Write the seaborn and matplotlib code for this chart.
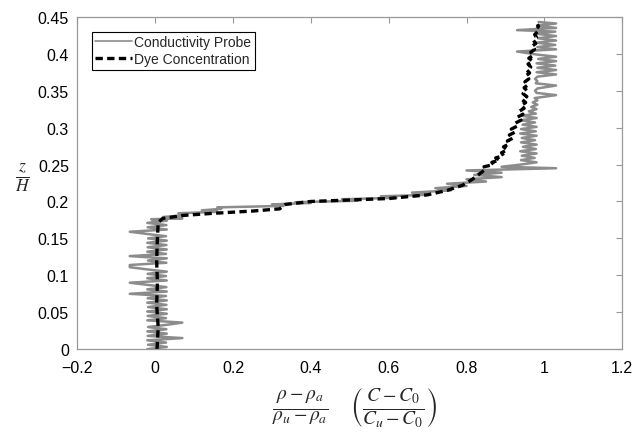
import numpy as np
import pandas as pd
import matplotlib
matplotlib.use("Agg")
import matplotlib.pyplot as plt
import seaborn as sns

# conductivity probe trace (normalised density) against height z/H
probe_z = [0.000, 0.003, 0.006, 0.009, 0.012, 0.015, 0.018, 0.021, 0.024, 0.027,
           0.030, 0.033, 0.036, 0.039, 0.042, 0.045, 0.048, 0.051, 0.054, 0.057,
           0.060, 0.063, 0.066, 0.069, 0.072, 0.075, 0.078, 0.081, 0.084, 0.087,
           0.090, 0.093, 0.096, 0.099, 0.102, 0.105, 0.108, 0.111, 0.114, 0.117,
           0.120, 0.123, 0.126, 0.129, 0.132, 0.135, 0.138, 0.141, 0.144, 0.147,
           0.150, 0.153, 0.156, 0.159, 0.162, 0.165, 0.168, 0.171, 0.174,
           0.176, 0.177, 0.179, 0.181, 0.184, 0.186, 0.188, 0.190, 0.192, 0.194,
           0.196, 0.198, 0.199, 0.201, 0.203, 0.205, 0.207, 0.209, 0.212, 0.215,
           0.218, 0.221, 0.224, 0.227, 0.230, 0.233, 0.236, 0.239, 0.242, 0.245,
           0.247, 0.250, 0.253, 0.256, 0.259, 0.262, 0.265, 0.268, 0.271, 0.274,
           0.277, 0.280, 0.283, 0.286, 0.289, 0.292, 0.295, 0.298, 0.301, 0.304,
           0.307, 0.310, 0.313, 0.316, 0.319, 0.322, 0.325, 0.328, 0.331, 0.334,
           0.337, 0.340, 0.344, 0.347, 0.350, 0.353, 0.357, 0.360, 0.363, 0.366,
           0.369, 0.372, 0.375, 0.378, 0.381, 0.384, 0.387, 0.390, 0.393, 0.396,
           0.399, 0.403, 0.406, 0.409, 0.412, 0.415, 0.418, 0.421, 0.424, 0.427,
           0.430, 0.432, 0.435, 0.438, 0.441, 0.443]
probe_x = [-0.020, 0.030, -0.018, 0.028, -0.020, 0.070, -0.019, 0.030, -0.020, 0.029,
           -0.018, 0.030, 0.070, -0.020, 0.028, -0.019, 0.030, -0.020, 0.030, -0.018,
           0.029, -0.020, 0.030, -0.019, 0.028, -0.065, 0.030, -0.020, 0.029, -0.018,
           -0.065, 0.030, -0.020, 0.028, -0.019, 0.030, -0.020, -0.065, -0.065, 0.029,
           -0.018, 0.030, -0.065, 0.028, -0.020, 0.030, -0.019, 0.029, -0.020, 0.030,
           -0.018, 0.028, -0.020, -0.065, 0.030, -0.019, 0.029, -0.020, 0.030,
           -0.010, 0.070, 0.020, 0.070, 0.060, 0.160, 0.120, 0.170, 0.160, 0.330,
           0.300, 0.400, 0.360, 0.520, 0.480, 0.620, 0.580, 0.700, 0.660, 0.760,
           0.720, 0.800, 0.750, 0.850, 0.800, 0.890, 0.820, 0.890, 0.800, 1.030,
           0.890, 0.940, 0.980, 0.940, 0.975, 0.942, 0.980, 0.938, 0.978, 0.945,
           0.980, 0.940, 0.976, 0.942, 0.980, 0.938, 0.978, 0.940, 0.980, 0.944,
           0.976, 0.940, 0.980, 0.942, 0.978, 0.960, 0.980, 0.966, 0.982, 0.970,
           0.982, 0.975, 1.030, 0.980, 0.976, 0.982, 1.030, 0.978, 0.982, 0.976,
           0.982, 1.030, 0.980, 1.030, 0.982, 1.028, 0.980, 1.030, 0.984, 1.030,
           0.980, 0.930, 1.030, 0.982, 1.028, 0.980, 1.030, 0.984, 1.030, 0.980,
           1.028, 0.930, 1.030, 0.982, 1.030, 0.985]

# dye concentration profile
dye_z = [0.000, 0.030, 0.060, 0.090, 0.120, 0.150, 0.172, 0.177, 0.181, 0.184,
         0.187, 0.190, 0.196, 0.200, 0.202, 0.204, 0.209, 0.215, 0.222, 0.230,
         0.238, 0.244, 0.247, 0.250, 0.253, 0.256, 0.259, 0.262, 0.266, 0.270,
         0.274, 0.278, 0.282, 0.286, 0.290, 0.294, 0.298, 0.302, 0.306, 0.310,
         0.314, 0.318, 0.322, 0.326, 0.330, 0.334, 0.338, 0.342, 0.346, 0.350,
         0.354, 0.358, 0.362, 0.366, 0.370, 0.374, 0.378, 0.382, 0.386, 0.390,
         0.394, 0.398, 0.402, 0.406, 0.410, 0.414, 0.418, 0.422, 0.426, 0.430,
         0.434, 0.437, 0.440]
dye_x = [0.005, 0.008, 0.004, 0.006, 0.004, 0.006, 0.008, 0.020, 0.070, 0.150,
         0.250, 0.320, 0.335, 0.400, 0.500, 0.600, 0.700, 0.750, 0.790, 0.815,
         0.835, 0.850, 0.845, 0.870, 0.865, 0.885, 0.875, 0.895, 0.890, 0.905,
         0.895, 0.910, 0.905, 0.920, 0.910, 0.925, 0.915, 0.930, 0.925, 0.940,
         0.930, 0.945, 0.935, 0.948, 0.940, 0.952, 0.943, 0.955, 0.945, 0.955,
         0.948, 0.958, 0.950, 0.960, 0.952, 0.962, 0.955, 0.965, 0.958, 0.970,
         0.960, 0.972, 0.965, 0.975, 0.968, 0.978, 0.972, 0.980, 0.975, 0.983,
         0.980, 0.985, 0.982]

probe = pd.DataFrame({"x": probe_x, "z": probe_z})
dye = pd.DataFrame({"x": dye_x, "z": dye_z})

sns.set_style("white")
plt.rcParams['font.family'] = ['Liberation Sans', 'DejaVu Sans']
plt.rcParams['mathtext.fontset'] = 'stix'

fig = plt.figure(figsize=(6.33, 4.35), dpi=100)
ax = fig.add_axes([0.122, 0.195, 0.861, 0.764])

sns.lineplot(data=probe, x="x", y="z", sort=False, estimator=None, ax=ax,
             color='#8c8c8c', linewidth=1.8, label='Conductivity Probe')
sns.lineplot(data=dye, x="x", y="z", sort=False, estimator=None, ax=ax,
             color='black', linewidth=2.4, linestyle=(0, (2.2, 1.3)),
             label='Dye Concentration')

ax.set_xlim(-0.2, 1.2)
ax.set_ylim(0, 0.45)
ax.set_xticks([-0.2, 0, 0.2, 0.4, 0.6, 0.8, 1.0, 1.2])
ax.set_xticklabels(['\u22120.2', '0', '0.2', '0.4', '0.6', '0.8', '1', '1.2'])
ax.set_yticks([0, 0.05, 0.1, 0.15, 0.2, 0.25, 0.3, 0.35, 0.4, 0.45])
ax.set_yticklabels(['0', '0.05', '0.1', '0.15', '0.2', '0.25', '0.3', '0.35', '0.4', '0.45'])
ax.tick_params(direction='in', length=4, width=0.8, color='#999999',
               labelsize=11.5, top=True, right=True, labelcolor='black')
ax.tick_params(axis='x', pad=8)
ax.tick_params(axis='y', pad=6)
for sp in ax.spines.values():
    sp.set_color('#999999')
    sp.set_linewidth(0.9)

ax.set_xlabel(r'$\frac{\rho-\rho_a}{\rho_u-\rho_a}\quad\left(\frac{C-C_0}{C_u-C_0}\right)$',
              fontsize=20)
ax.xaxis.set_label_coords(0.51, -0.11)
ax.set_ylabel(r'$\frac{z}{H}$', fontsize=18, rotation=0)
ax.yaxis.set_label_coords(-0.1, 0.47)

leg = ax.legend(loc='upper left', bbox_to_anchor=(0.027, 0.955), borderaxespad=0,
                fontsize=10, frameon=True, fancybox=False, edgecolor='black',
                framealpha=1, handlelength=2.6, handletextpad=0.2,
                borderpad=0.25, labelspacing=0.2)
leg.get_frame().set_linewidth(0.8)
leg.get_lines()[0].set_linewidth(1.2)

plt.savefig('out.png', dpi=100)
